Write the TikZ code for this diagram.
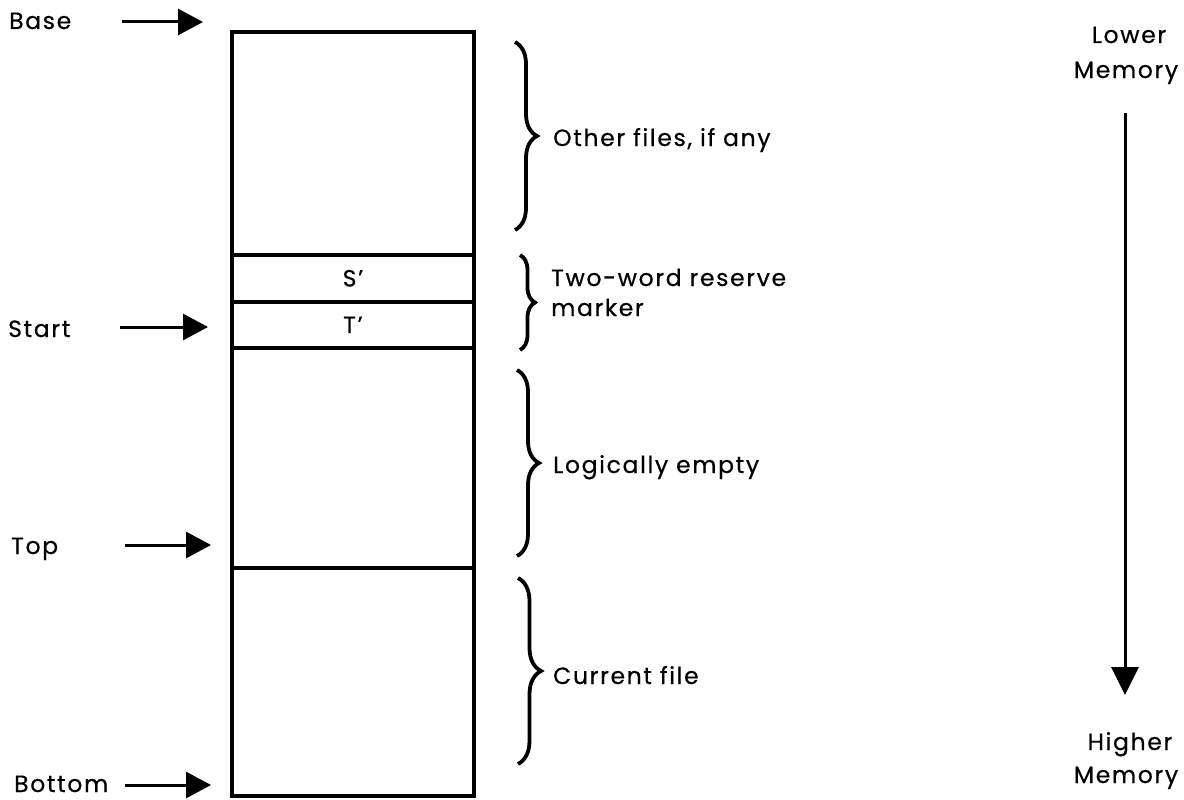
\documentclass[tikz,border=0pt]{standalone}
\usepackage{fontspec}
\setmainfont{Poppins}[LetterSpace=7, UprightFeatures={FakeBold=0.5}]
\usetikzlibrary{arrows.meta,decorations.pathreplacing}
\begin{document}
\begin{tikzpicture}[x=1pt,y=-1pt,
  txt/.style={font=\fontsize{23.5}{30}\selectfont, inner sep=0pt, anchor=base west},
  cell/.style={draw, line width=4pt, minimum width=242pt, inner sep=0pt, font=\fontsize{23.5}{26}\selectfont},
  ptr/.style={line width=3pt, -{Triangle[length=25pt,width=26pt]}},
  brc/.style={line width=3.8pt, decorate, decoration={brace, amplitude=#1}},
]
\useasboundingbox (0,0) rectangle (1184,800);
% memory cells
\node[cell, minimum height=223pt] (other) at (353,143.5) {};
\node[cell, minimum height=46.5pt] (sp) at (353,278.25) {S’};
\node[cell, minimum height=46.5pt] (tp) at (353,324.75) {T’};
\node[cell, minimum height=220pt] (empty) at (353,458) {};
\node[cell, minimum height=228pt] (cur) at (353,681.5) {};
% pointer labels
\node[txt] (base) at (9,29) {Base};
\node[txt] (start) at (8,337) {Start};
\node[txt] (top) at (11,554) {Top};
\node[txt] (bottom) at (14,792) {Bottom};
\coordinate (bt) at (122,22);  \coordinate (bh) at (203,22);
\coordinate (st) at (120,327); \coordinate (sh) at (208,327);
\coordinate (tt) at (125,545); \coordinate (th) at (211,545);
\coordinate (ot) at (125,785); \coordinate (oh) at (211,785);
\draw[ptr] (bt) -- (bh);
\draw[ptr] (st) -- (sh);
\draw[ptr] (tt) -- (th);
\draw[ptr] (ot) -- (oh);
% braces
\coordinate (b1a) at (515,42);  \coordinate (b1b) at (515,230);
\coordinate (b2a) at (520,255); \coordinate (b2b) at (520,350);
\coordinate (b3a) at (517,370); \coordinate (b3b) at (517,556);
\coordinate (b4a) at (518,578); \coordinate (b4b) at (518,764);
\draw[brc=22pt] (b1a) -- (b1b);
\draw[brc=15pt] (b2a) -- (b2b);
\draw[brc=22pt] (b3a) -- (b3b);
\draw[brc=23pt] (b4a) -- (b4b);
\node[txt] (l1) at (553,146) {Other files, if any};
\node[txt] (l2) at (551,286) {Two-word reserve};
\node[txt] (l2b) at (551,316) {marker};
\node[txt] (l3) at (553,473) {Logically empty};
\node[txt] (l4) at (553,684) {Current file};
% memory direction
\node[txt, anchor=base] (lower) at (1129,43) {Lower};
\node[txt, anchor=base] (lmem) at (1126,78) {Memory};
\node[txt, anchor=base] (higher) at (1130,750) {Higher};
\node[txt, anchor=base] (hmem) at (1126,783) {Memory};
\coordinate (mt) at (1125,113); \coordinate (mh) at (1125,695);
\draw[line width=3pt, -{Triangle[length=28pt,width=27pt]}] (mt) -- (mh);
\end{tikzpicture}
\end{document}
